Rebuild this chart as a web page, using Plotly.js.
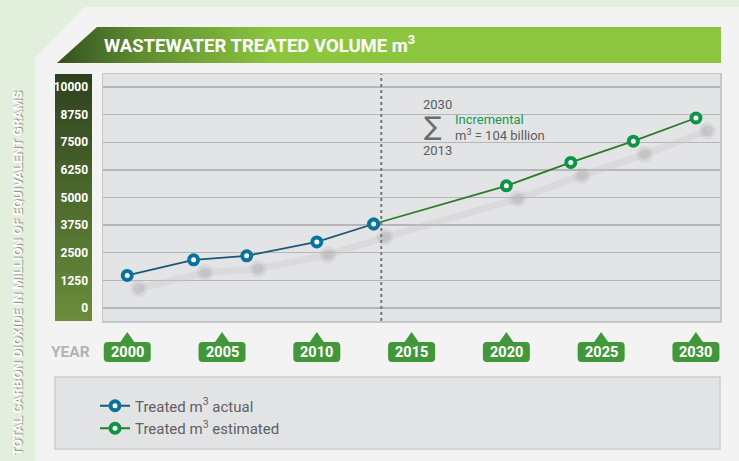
<!DOCTYPE html>
<html><head><meta charset="utf-8">
<script src="https://cdn.plot.ly/plotly-3.0.1.min.js"></script>
<style>html,body{margin:0;padding:0;background:#f3f3f3;} #chart{width:739px;height:461px;}</style>
</head><body><div id="chart"></div>
<script>
// ---- data ----
const actualYears = [2000, 2003.5, 2006.3, 2010, 2013];
const actualValues = [1470, 2180, 2360, 2990, 3800];
const estimatedYears = [2020, 2023.4, 2026.7, 2030];
const estimatedValues = [5530, 6590, 7550, 8600];
const yearTicks = [2000, 2005, 2010, 2015, 2020, 2025, 2030];
const valueTicks = [0, 1250, 2500, 3750, 5000, 6250, 7500, 8750, 10000];
const splitYear = 2013.4;
const seriesNames = ['Treated m<sup>3</sup> actual', 'Treated m<sup>3</sup> estimated'];

// ---- layout helpers ----
const W = 739, H = 461, L = 103, R = 19, T = 74, B = 140;
const pw = W - L - R, ph = H - T - B;
const px = x => (x - L) / pw;
const py = y => (H - B - y) / ph;
const pathPx = pts => pts.map((p, i) => (i ? 'L' : 'M') + px(p[0]).toFixed(5) + ',' + py(p[1]).toFixed(5)).join(' ') + ' Z';
const svgUri = s => 'data:image/svg+xml;charset=utf-8,' + encodeURIComponent(s);

const BOLD = 'Roboto, "Liberation Sans", sans-serif';
const SANS = 'Roboto, "Open Sans", sans-serif';
const BLUE = '#08739e', BLUE_LINE = '#1b5877', GREEN = '#0d9444', GREEN_LINE = '#2d7a2a';

// ---- traces ----
const estX = [actualYears[actualYears.length - 1]].concat(estimatedYears);
const estY = [actualValues[actualValues.length - 1]].concat(estimatedValues);
const allX = actualYears.concat(estimatedYears);
const allY = actualValues.concat(estimatedValues);

const shadowLine = {
  x: allX.map(v => v + 0.6), y: allY.map(v => v - 590),
  mode: 'lines', showlegend: false, hoverinfo: 'skip',
  line: {color: 'rgba(200,201,204,0.35)', width: 7}
};
const shadowHalo = {
  x: allX.map(v => v + 0.6), y: allY.map(v => v - 590),
  mode: 'markers', showlegend: false, hoverinfo: 'skip',
  marker: {size: 17, color: 'rgba(180,181,184,0.25)', line: {width: 0}}
};
const shadowCore = {
  x: allX.map(v => v + 0.6), y: allY.map(v => v - 590),
  mode: 'markers', showlegend: false, hoverinfo: 'skip',
  marker: {size: 11, color: 'rgba(175,176,179,0.35)', line: {width: 0}}
};
const estimated = {
  x: estX, y: estY, name: seriesNames[1], legendrank: 2,
  mode: 'lines+markers',
  line: {color: GREEN_LINE, width: 1.8},
  marker: {symbol: 'circle', size: 9, color: '#ffffff', line: {color: GREEN, width: 4}}
};
const actual = {
  x: actualYears, y: actualValues, name: seriesNames[0], legendrank: 1,
  mode: 'lines+markers',
  line: {color: BLUE_LINE, width: 1.8},
  marker: {symbol: 'circle', size: 9, color: '#ffffff', line: {color: BLUE, width: 4}}
};

// ---- decoration ----
const titleSvg = '<svg xmlns="http://www.w3.org/2000/svg" width="664" height="36" viewBox="0 0 664 36" preserveAspectRatio="none"><defs><linearGradient id="g" x1="0" x2="1" y1="0" y2="0"><stop offset="0" stop-color="#34501f"/><stop offset="0.12" stop-color="#5d8a30"/><stop offset="0.33" stop-color="#8cc63f"/><stop offset="1" stop-color="#8cc63f"/></linearGradient></defs><polygon points="0,36 40,0 664,0 664,36" fill="url(#g)"/></svg>';
const colSvg = '<svg xmlns="http://www.w3.org/2000/svg" width="37" height="247" viewBox="0 0 37 247" preserveAspectRatio="none"><defs><linearGradient id="g" x1="0" x2="0" y1="0" y2="1"><stop offset="0" stop-color="#2e401f"/><stop offset="0.5" stop-color="#4c6a2d"/><stop offset="1" stop-color="#6a8d3a"/></linearGradient></defs><rect x="0" y="0" width="37" height="247" fill="url(#g)"/></svg>';

const images = [
  {source: svgUri(titleSvg), xref: 'paper', yref: 'paper', x: px(57), y: py(27), sizex: 664 / pw, sizey: 36 / ph,
   xanchor: 'left', yanchor: 'top', sizing: 'stretch', layer: 'below'},
  {source: svgUri(colSvg), xref: 'paper', yref: 'paper', x: px(55), y: py(74), sizex: 37 / pw, sizey: 247 / ph,
   xanchor: 'left', yanchor: 'top', sizing: 'stretch', layer: 'below'}
];

const tickBoxPath = 'M -23.5,-6 L -23.5,6 Q -23.5,10 -19.5,10 L -7,10 L 0,20 L 7,10 L 19.5,10 Q 23.5,10 23.5,6 L 23.5,-6 Q 23.5,-10 19.5,-10 L -19.5,-10 Q -23.5,-10 -23.5,-6 Z';

const shapes = [
  {type: 'path', xref: 'paper', yref: 'paper', layer: 'below',
   path: pathPx([[0, 0], [W, 0], [W, 7], [85, 7], [35, 58], [35, H], [0, H]]),
   fillcolor: '#e3efdd', line: {width: 0}},
  {type: 'rect', xref: 'paper', yref: 'paper', layer: 'below',
   x0: px(55), x1: px(720), y0: py(377), y1: py(449),
   fillcolor: '#e2e3e5', line: {color: '#cdced0', width: 1.5}},
  {type: 'line', xref: 'x', yref: 'paper', x0: splitYear, x1: splitYear, y0: 0, y1: 1,
   line: {color: '#77787a', width: 2, dash: 'dot'}, layer: 'above'}
].concat(yearTicks.map(yr => ({
  type: 'path', xref: 'x', yref: 'paper', xsizemode: 'pixel', ysizemode: 'pixel',
  xanchor: yr, yanchor: py(352), path: tickBoxPath,
  fillcolor: '#43973b', line: {width: 0}, layer: 'above'
})));

const annotations = [
  {text: 'WASTEWATER TREATED VOLUME m<sup>3</sup>', xref: 'paper', yref: 'paper', x: px(102), y: py(45),
   xanchor: 'left', yanchor: 'middle', showarrow: false,
   font: {family: BOLD, size: 18.5, color: '#ffffff', weight: 700}},
  {text: 'TOTAL CARBON DIOXIDE IN MILLION OF EQUIVALENT GRAMS', xref: 'paper', yref: 'paper', x: px(17), y: py(274),
   xanchor: 'center', yanchor: 'middle', showarrow: false, textangle: -90,
   font: {family: BOLD, size: 13, color: '#ffffff', weight: 700, shadow: '1px 1px 1px rgba(0,0,0,0.4)'}},
  {text: 'YEAR', xref: 'paper', yref: 'paper', x: px(92), y: py(352), xanchor: 'right', yanchor: 'middle', showarrow: false,
   font: {family: BOLD, size: 15.5, color: '#b3b4b6', weight: 700}},
  {text: '2030', xref: 'paper', yref: 'paper', x: px(421), y: py(105), xanchor: 'left', yanchor: 'middle', showarrow: false,
   font: {family: SANS, size: 13, color: '#5b5c5e'}},
  {text: '\u2211', xref: 'paper', yref: 'paper', x: px(433), y: py(126), xanchor: 'center', yanchor: 'middle', showarrow: false,
   font: {family: 'DejaVu Sans, sans-serif', size: 26, color: '#6a6b6d'}},
  {text: 'Incremental', xref: 'paper', yref: 'paper', x: px(453), y: py(119.5), xanchor: 'left', yanchor: 'middle', showarrow: false,
   font: {family: SANS, size: 13, color: '#1a9a4a'}},
  {text: 'm<sup>3</sup> = 104 billion', xref: 'paper', yref: 'paper', x: px(453), y: py(135), xanchor: 'left', yanchor: 'middle', showarrow: false,
   font: {family: SANS, size: 13, color: '#5b5c5e'}},
  {text: '2013', xref: 'paper', yref: 'paper', x: px(421), y: py(150), xanchor: 'left', yanchor: 'middle', showarrow: false,
   font: {family: SANS, size: 13, color: '#5b5c5e'}}
].concat(yearTicks.map(yr => ({
  text: String(yr), xref: 'x', yref: 'paper', x: yr, y: py(352.5), xanchor: 'center', yanchor: 'middle', showarrow: false,
  font: {family: BOLD, size: 14.5, color: '#ffffff', weight: 700}
})));

const layout = {
  width: W, height: H,
  margin: {l: L, r: R, t: T, b: B, pad: 0},
  paper_bgcolor: '#f3f3f3', plot_bgcolor: '#e3e4e6',
  showlegend: true,
  legend: {x: px(95), y: py(417), xanchor: 'left', yanchor: 'middle', bgcolor: 'rgba(0,0,0,0)',
           font: {family: SANS, size: 15, color: '#5f6062'}, tracegroupgap: 0},
  xaxis: {range: [1998.72, 2031.27], tickvals: yearTicks, showticklabels: false, ticks: '',
          showgrid: false, zeroline: false, showline: true, mirror: true, linecolor: '#c6c7c9', linewidth: 1.5,
          fixedrange: true},
  yaxis: {range: [-591, 10591], tickvals: valueTicks, ticktext: valueTicks.map(String),
          showgrid: true, gridcolor: '#b5b6b8', gridwidth: 1.5, zeroline: false,
          showline: true, mirror: true, linecolor: '#c6c7c9', linewidth: 1.5,
          ticks: 'outside', ticklen: 11, tickcolor: 'rgba(0,0,0,0)',
          tickfont: {family: BOLD, size: 12, color: '#ffffff', weight: 700}, fixedrange: true},
  images: images, shapes: shapes, annotations: annotations,
  hovermode: false
};

Plotly.newPlot('chart', [shadowLine, shadowHalo, shadowCore, estimated, actual], layout, {displayModeBar: false, staticPlot: true});
</script>
</body></html>
